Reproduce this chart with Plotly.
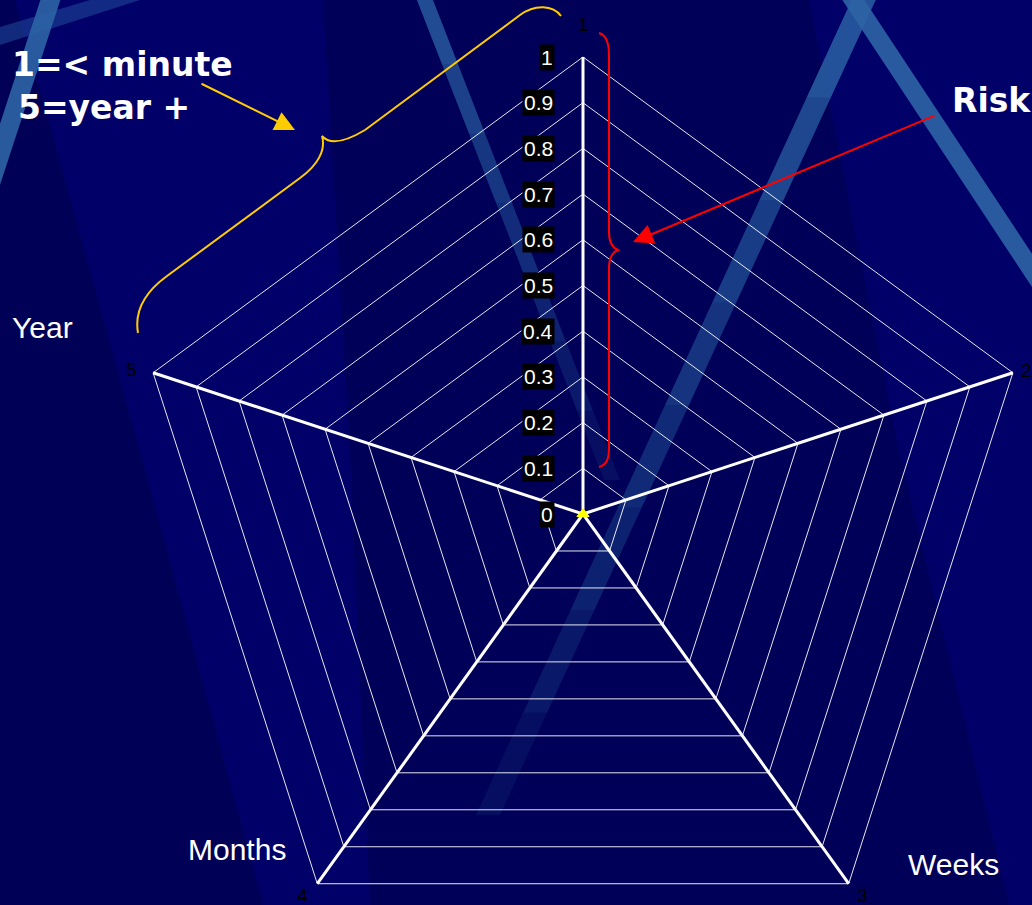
import math
import plotly.graph_objects as go

# ---- chart data -------------------------------------------------------
categories = ["1", "2", "3", "4", "5"]          # spoke labels, clockwise from top
risk_values = [0, 0, 0, 0, 0]                  # plotted series
radial_ticks = [0, 0.1, 0.2, 0.3, 0.4, 0.5, 0.6, 0.7, 0.8, 0.9, 1.0]
radial_tick_labels = ["0", "0.1", "0.2", "0.3", "0.4", "0.5", "0.6", "0.7", "0.8", "0.9", "1"]
radial_max = 1.0

# ---- canvas / scale ---------------------------------------------------
W, H = 1032, 905
CX, CY = 583, 514          # radar centre on the canvas (px)
SX, SY = 452, 457          # px per radial unit (horizontal, vertical)

NAVY = "rgb(0,0,104)"
STRIPE = "45,100,165"


def P(x, y):
    """canvas pixel -> paper fraction"""
    return x / W, 1 - y / H


def to_path(points, closed=True):
    pts = [P(x, y) for x, y in points]
    s = "M " + " L ".join(f"{a:.5f},{b:.5f}" for a, b in pts)
    return s + (" Z" if closed else "")


def curve_path(cmds):
    """cmds: list of ('M'|'L'|'C', [(x,y),...]) in canvas pixels"""
    out = []
    for op, pts in cmds:
        conv = " ".join(f"{P(x, y)[0]:.5f},{P(x, y)[1]:.5f}" for x, y in pts)
        out.append(f"{op} {conv}")
    return " ".join(out)


def spoke_xy(r, k):
    th = 2 * math.pi * k / len(categories)
    return r * math.sin(th), r * math.cos(th)


shapes = []

# ---- slide background -------------------------------------------------
def region(points, color):
    shapes.append(dict(type="path", path=to_path(points), xref="paper", yref="paper",
                       fillcolor=color, line=dict(width=0), layer="below"))


region([(15, 0), (140, 452), (263, 905), (0, 905), (0, 0)], "rgba(0,0,40,0.28)")
region([(323, 0), (809, 0), (899, 452), (1009, 905), (370, 905), (350, 452)],
       "rgba(0,0,30,0.22)")
region([(0, 27), (90, 0), (140, 0), (0, 45)], "rgba(30,70,150,0.6)")


def stripe(top, bottom, width, alphas):
    """Light diagonal band; stacked translucent layers of decreasing length
    give a smooth fade from the top end towards the bottom end."""
    (x0, y0), (x1, y1) = top, bottom
    nl = len(alphas)
    for i, a in enumerate(alphas):
        t = 1 - i / nl
        xb, yb = x0 + (x1 - x0) * t, y0 + (y1 - y0) * t
        region([(x0 - width / 2, y0), (x0 + width / 2, y0),
                (xb + width / 2, yb), (xb - width / 2, yb)],
               f"rgba({STRIPE},{a:.3f})")


stripe((52, -5), (-10, 185), 20, [0.9])
stripe((423, -5), (612, 480), 16, [0.15, 0.12, 0.12, 0.15, 0.2, 0.25, 0.3])
stripe((866, -5), (488, 815), 24, [0.14, 0.12, 0.12, 0.14, 0.16, 0.2, 0.3, 0.4])
stripe((850, -5), (1045, 290), 22, [0.9])

# ---- radar grid -------------------------------------------------------
n = len(categories)
ring_x, ring_y = [], []
for r in radial_ticks[1:]:
    for k in list(range(n)) + [0]:
        x, y = spoke_xy(r, k)
        ring_x.append(x)
        ring_y.append(y)
    ring_x.append(None)
    ring_y.append(None)

spoke_x, spoke_y = [], []
for k in range(n):
    x, y = spoke_xy(radial_max, k)
    spoke_x += [0, x, None]
    spoke_y += [0, y, None]

fig = go.Figure()
fig.add_trace(go.Scatter(x=ring_x, y=ring_y, mode="lines",
                         line=dict(color="rgba(255,255,255,0.9)", width=1),
                         hoverinfo="skip", showlegend=False))
fig.add_trace(go.Scatter(x=spoke_x, y=spoke_y, mode="lines",
                         line=dict(color="white", width=3),
                         hoverinfo="skip", showlegend=False))

# ---- series -----------------------------------------------------------
sx, sy = zip(*[spoke_xy(v, k) for k, v in enumerate(risk_values)])
fig.add_trace(go.Scatter(x=list(sx) + [sx[0]], y=list(sy) + [sy[0]],
                         mode="lines+markers", name="Risk",
                         line=dict(color="#FFFF00", width=2),
                         marker=dict(symbol="triangle-up", size=11, color="#FFFF00"),
                         showlegend=False))

annotations = []

# radial tick labels
for v, lab in zip(radial_ticks, radial_tick_labels):
    annotations.append(dict(x=0, y=v, xref="x", yref="y", text=lab, showarrow=False,
                            xanchor="right", yanchor="middle", xshift=-28,
                            bgcolor="black", borderpad=1,
                            font=dict(family="Liberation Sans, Arial", size=21, color="white")))

# category labels at the spoke ends
cat_shift = [(0, 33), (14, 2), (14, -12), (-15, -12), (-22, 3)]
for k, (lab, (dx, dy)) in enumerate(zip(categories, cat_shift)):
    x, y = spoke_xy(radial_max, k)
    annotations.append(dict(x=x, y=y, xref="x", yref="y", text=lab, showarrow=False,
                            xshift=dx, yshift=dy,
                            font=dict(family="Liberation Sans, Arial", size=19, color="black")))

# slide text
bold = dict(family="DejaVu Sans", size=33, color="white")
plain = dict(family="Liberation Sans, Arial", size=30, color="white")


def text(x, y, s, font, anchor="left"):
    px, py = P(x, y)
    annotations.append(dict(x=px, y=py, xref="paper", yref="paper", text=s,
                            showarrow=False, xanchor=anchor, yanchor="middle", font=font))


text(10, 64, "<b>1=&lt; minute</b>", bold)
text(16, 108, "<b>5=year +</b>", bold)
text(950, 101, "<b>Risk</b>", bold)
text(10, 328, "Year", plain)
text(186, 849, "Months", plain)
text(906, 864, "Weeks", plain)


def arrow(tip, tail, color):
    px, py = P(*tip)
    annotations.append(dict(x=px, y=py, xref="paper", yref="paper", text="",
                            showarrow=True, ax=tail[0] - tip[0], ay=tail[1] - tip[1],
                            arrowhead=2, arrowsize=2, arrowwidth=2, arrowcolor=color,
                            standoff=0))


arrow((295, 130), (200, 83), "#FFCC00")
arrow((633, 242), (936, 115), "#FF0000")

# curly braces
shapes.append(dict(type="path", xref="paper", yref="paper", layer="above",
                   line=dict(color="#FFCC00", width=2),
                   path=curve_path([
                       ("M", [(138, 333)]),
                       ("C", [(134, 310), (145, 292), (167, 276)]),
                       ("L", [(300, 178)]),
                       ("C", [(318, 165), (326, 150), (322, 136)]),
                       ("C", [(328, 143), (340, 145), (365, 130)]),
                       ("L", [(520, 15)]),
                       ("C", [(535, 4), (553, 5), (561, 16)]),
                   ])))
shapes.append(dict(type="path", xref="paper", yref="paper", layer="above",
                   line=dict(color="#FF0000", width=2),
                   path=curve_path([
                       ("M", [(599, 33)]),
                       ("C", [(606, 35), (609, 42), (609, 55)]),
                       ("L", [(609, 232)]),
                       ("C", [(609, 243), (613, 248), (618, 250)]),
                       ("C", [(613, 252), (609, 257), (609, 268)]),
                       ("L", [(609, 448)]),
                       ("C", [(609, 460), (606, 465), (599, 467)]),
                   ])))

fig.update_layout(
    width=W, height=H,
    margin=dict(l=0, r=0, t=0, b=0),
    paper_bgcolor=NAVY, plot_bgcolor=NAVY,
    xaxis=dict(range=[-CX / SX, (W - CX) / SX], visible=False, fixedrange=True),
    yaxis=dict(range=[-(H - CY) / SY, CY / SY], visible=False, fixedrange=True),
    shapes=shapes, annotations=annotations,
    showlegend=False,
)

fig.write_html("out.html")
